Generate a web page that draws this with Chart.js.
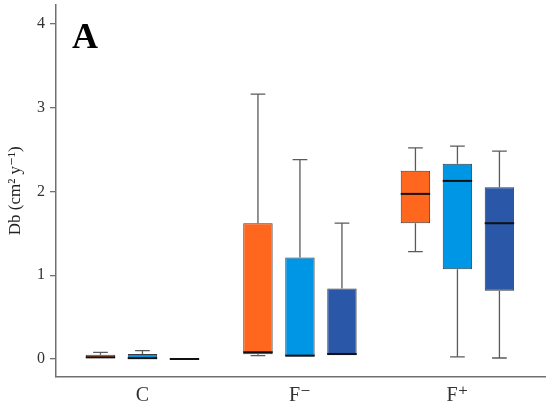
<!DOCTYPE html>
<html>
<head>
<meta charset="utf-8">
<script src="https://cdn.jsdelivr.net/npm/chart.js@4"></script>
<style>
html,body{margin:0;padding:0;background:#fff;}
#wrap{width:550px;height:408px;}
</style>
</head>
<body>
<div id="wrap"><canvas id="c"></canvas></div>
<script>
const categories = ['C', 'F\u207B', 'F\u207A'];
const seriesNames = ['Series 1', 'Series 2', 'Series 3'];
const seriesColors = ['#FF671F', '#0096E6', '#2A57A8'];
// per category: [min, q1, median, q3, max]
const series1Box = [[0.00, 0.00, 0.02, 0.05, 0.08], [0.04, 0.056, 0.08, 1.62, 3.16], [1.28, 1.62, 1.97, 2.245, 2.52]];
const series2Box = [[0.00, 0.00, 0.01, 0.06, 0.10], [0.03, 0.03, 0.04, 1.21, 2.38], [0.024, 1.07, 2.125, 2.33, 2.54]];
const series3Box = [[0.00, 0.00, 0.00, 0.00, 0.00], [0.045, 0.045, 0.06, 0.84, 1.62], [0.012, 0.815, 1.62, 2.05, 2.48]];
const yTicks = [0, 1, 2, 3, 4];
const allBoxes = [series1Box, series2Box, series3Box];

const FONT = "'Liberation Serif', 'DejaVu Serif', serif";

const datasets = allBoxes.map((box, s) => ({
  label: seriesNames[s],
  data: box.map((b, i) => ({x: i + 1, y: [b[1], b[3]], stats: b})),
  backgroundColor: seriesColors[s],
  borderColor: '#3a3a3a',
  borderWidth: 1,
  borderSkipped: false,
  categoryPercentage: 0.8,
  barPercentage: 0.70
}));

const boxPlugin = {
  id: 'boxExtras',
  afterDatasetsDraw(chart) {
    const ctx = chart.ctx;
    const ys = chart.scales.y;
    chart.data.datasets.forEach((ds, di) => {
      const meta = chart.getDatasetMeta(di);
      meta.data.forEach((bar, i) => {
        const st = ds.data[i].stats;
        const x = bar.x, w = bar.width;
        const yMin = ys.getPixelForValue(st[0]);
        const yQ1 = ys.getPixelForValue(st[1]);
        const yMed = ys.getPixelForValue(st[2]);
        const yQ3 = ys.getPixelForValue(st[3]);
        const yMax = ys.getPixelForValue(st[4]);
        const cap = w * 0.5;
        ctx.save();
        ctx.strokeStyle = '#5a5a5a';
        ctx.lineWidth = 1.3;
        ctx.beginPath();
        if (yMax < yQ3 - 0.5) {
          ctx.moveTo(x, yQ3); ctx.lineTo(x, yMax);
          ctx.moveTo(x - cap / 2, yMax); ctx.lineTo(x + cap / 2, yMax);
        }
        if (yMin > yQ1 + 0.5) {
          ctx.moveTo(x, yQ1); ctx.lineTo(x, yMin);
          ctx.moveTo(x - cap / 2, yMin); ctx.lineTo(x + cap / 2, yMin);
        }
        ctx.stroke();
        ctx.strokeStyle = '#111';
        ctx.lineWidth = 2;
        ctx.beginPath();
        ctx.moveTo(x - w / 2, yMed); ctx.lineTo(x + w / 2, yMed);
        ctx.stroke();
        ctx.restore();
      });
    });
  },
  afterDraw(chart) {
    const ctx = chart.ctx;
    ctx.save();
    ctx.fillStyle = '#000';
    ctx.font = "bold 36px " + FONT;
    ctx.textBaseline = 'alphabetic';
    ctx.textAlign = 'left';
    ctx.fillText('A', 72, 48);
    ctx.restore();
  }
};

new Chart(document.getElementById('c'), {
  type: 'bar',
  data: {datasets},
  options: {
    responsive: true,
    maintainAspectRatio: false,
    animation: false,
    layout: {padding: {left: 0, right: 5, top: 4.5, bottom: 0}},
    plugins: {legend: {display: false}, tooltip: {enabled: false}},
    scales: {
      x: {
        type: 'linear',
        offset: false,
        min: 0.451,
        max: 3.556,
        grid: {display: false, drawTicks: false, offset: false},
        border: {display: true, color: '#707070', width: 1.5},
        ticks: {
          stepSize: 1,
          includeBounds: false,
          padding: 7,
          color: '#333',
          font: {family: FONT, size: 20},
          callback: (v) => categories[Math.round(v) - 1] || ''
        },
        afterFit: (s) => { s.height = 31; }
      },
      y: {
        min: -0.215,
        max: 4.23,
        grid: {display: true, drawOnChartArea: false, drawTicks: true, tickLength: 6, color: '#707070', lineWidth: 1.3},
        border: {display: true, color: '#707070', width: 1.5},
        afterBuildTicks: (s) => { s.ticks = yTicks.map(v => ({value: v})); },
        ticks: {
          padding: 5,
          color: '#333',
          font: {family: FONT, size: 16},
          callback: (v) => String(v)
        },
        title: {
          display: true,
          text: 'Db (cm\u00B2 y\u207B\u00B9)',
          color: '#222',
          font: {family: FONT, size: 17},
          padding: {top: 5, bottom: 0}
        },
        afterFit: (s) => { s.width = 56; s.paddingTop = 0; s.paddingBottom = 0; }
      }
    }
  },
  plugins: [boxPlugin]
});
</script>
</body>
</html>
